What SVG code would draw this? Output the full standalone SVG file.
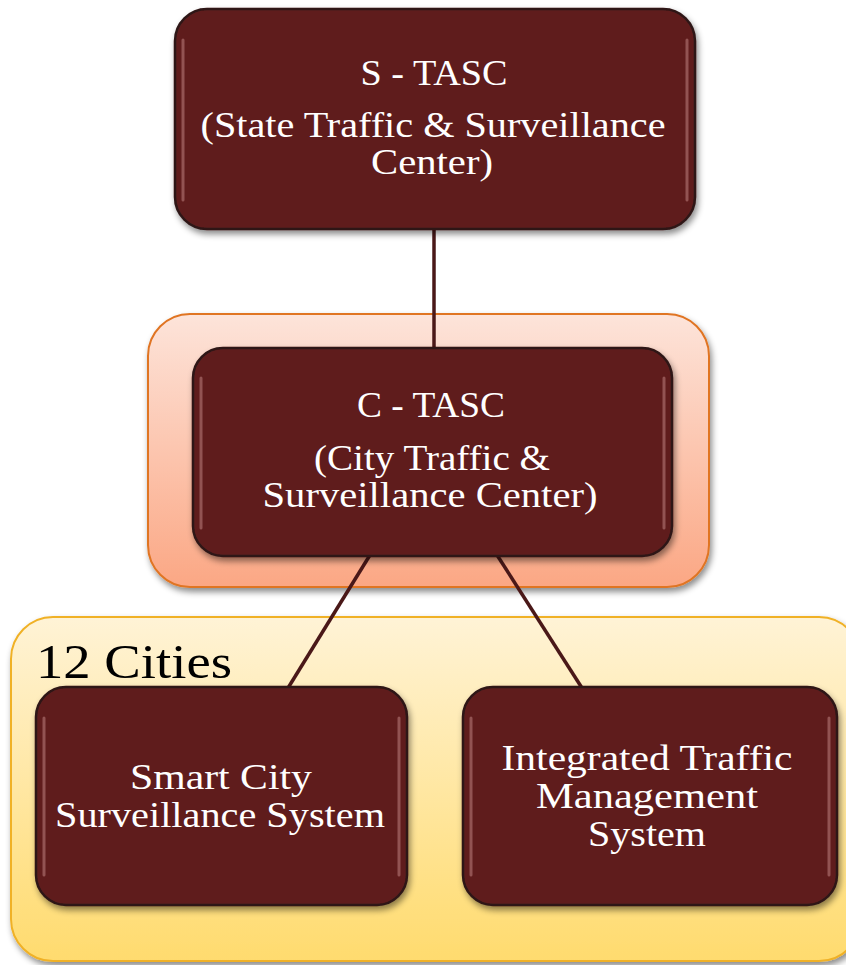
<svg xmlns="http://www.w3.org/2000/svg" width="846" height="965" viewBox="0 0 846 965">
<defs>
<linearGradient id="gOrange" x1="0" y1="0" x2="0" y2="1">
<stop offset="0" stop-color="#fde4da"/>
<stop offset="1" stop-color="#fba784"/>
</linearGradient>
<linearGradient id="gYellow" x1="0" y1="0" x2="0" y2="1">
<stop offset="0" stop-color="#fff3d6"/>
<stop offset="1" stop-color="#ffdb6e"/>
</linearGradient>
<filter id="shadow" x="-10%" y="-10%" width="120%" height="125%">
<feDropShadow dx="2" dy="4" stdDeviation="3" flood-color="#000" flood-opacity="0.45"/>
</filter>
</defs>
<style>
.box{fill:#5e1f1f;stroke:#2e1616;stroke-width:2.5;filter:url(#shadow)}
.hl{fill:none;stroke:#c58a88;stroke-width:3;opacity:0.5;stroke-linecap:round}
.t{font-family:"Liberation Serif","DejaVu Serif",serif;fill:#ffffff;font-size:35px;text-anchor:middle}
.c{stroke:#4a1818;stroke-width:3.5;fill:none}
</style>
<g id="container-orange">
<rect x="148" y="314" width="561" height="273" rx="42" fill="url(#gOrange)" stroke="#e07424" stroke-width="2" filter="url(#shadow)"/>
</g>
<g id="container-yellow">
<rect x="11" y="617" width="850" height="344" rx="42" fill="url(#gYellow)" stroke="#f0b126" stroke-width="2" filter="url(#shadow)"/>
<text x="36" y="678" font-family="'Liberation Serif','DejaVu Serif',serif" font-size="48" fill="#000" textLength="196" lengthAdjust="spacingAndGlyphs">12 Cities</text>
</g>
<g id="connectors">
<line class="c" x1="434" y1="229" x2="434" y2="348"/>
<line class="c" x1="370" y1="555" x2="288" y2="688"/>
<line class="c" x1="497" y1="555" x2="582" y2="688"/>
</g>
<g id="s-tasc">
<rect class="box" x="175" y="9" width="520" height="220" rx="32"/>
<path class="hl" d="M183 40 V200 M687 40 V200"/>
<text class="t" x="434" y="85" textLength="147" lengthAdjust="spacingAndGlyphs">S - TASC</text>
<text class="t" x="433" y="137" textLength="465" lengthAdjust="spacingAndGlyphs">(State Traffic &amp; Surveillance</text>
<text class="t" x="432" y="174" textLength="122" lengthAdjust="spacingAndGlyphs">Center)</text>
</g>
<g id="c-tasc">
<rect class="box" x="193" y="348" width="479" height="208" rx="30"/>
<path class="hl" d="M201 378 V528 M664 378 V528"/>
<text class="t" x="431" y="417" textLength="148" lengthAdjust="spacingAndGlyphs">C - TASC</text>
<text class="t" x="432" y="470" textLength="236" lengthAdjust="spacingAndGlyphs">(City Traffic &amp;</text>
<text class="t" x="430" y="507" textLength="335" lengthAdjust="spacingAndGlyphs">Surveillance Center)</text>
</g>
<g id="smart-city">
<rect class="box" x="36" y="687" width="371" height="218" rx="30"/>
<path class="hl" d="M44 718 V875 M399 718 V875"/>
<text class="t" x="221" y="789" textLength="182" lengthAdjust="spacingAndGlyphs">Smart City</text>
<text class="t" x="220" y="827" textLength="330" lengthAdjust="spacingAndGlyphs">Surveillance System</text>
</g>
<g id="itms">
<rect class="box" x="463" y="687" width="374" height="218" rx="30"/>
<path class="hl" d="M471 718 V875 M829 718 V875"/>
<text class="t" x="647" y="770" textLength="291" lengthAdjust="spacingAndGlyphs">Integrated Traffic</text>
<text class="t" x="647" y="808" textLength="222" lengthAdjust="spacingAndGlyphs">Management</text>
<text class="t" x="647" y="846" textLength="118" lengthAdjust="spacingAndGlyphs">System</text>
</g>
</svg>
